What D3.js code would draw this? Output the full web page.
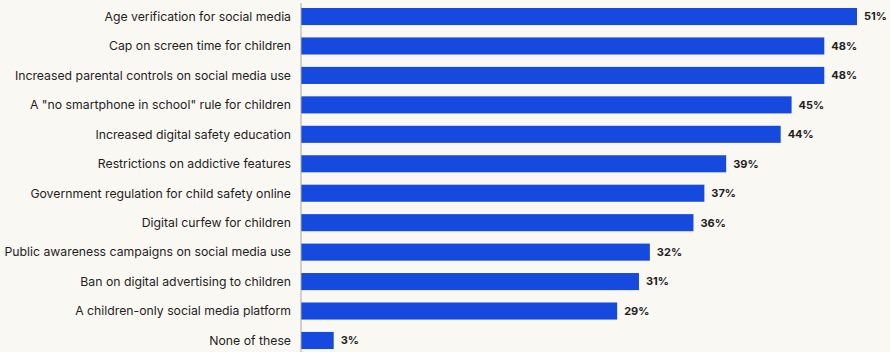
<!DOCTYPE html>
<html>
<head>
<meta charset="utf-8">
<script src="https://cdn.jsdelivr.net/npm/d3@7"></script>
<style>
  body { margin: 0; background: #faf8f3; }
  svg { display: block; }
</style>
</head>
<body>
<div id="chart"></div>
<script>
var categories = [
  "Age verification for social media",
  "Cap on screen time for children",
  "Increased parental controls on social media use",
  "A \"no smartphone in school\" rule for children",
  "Increased digital safety education",
  "Restrictions on addictive features",
  "Government regulation for child safety online",
  "Digital curfew for children",
  "Public awareness campaigns on social media use",
  "Ban on digital advertising to children",
  "A children-only social media platform",
  "None of these"
];
var values = [51, 48, 48, 45, 44, 39, 37, 36, 32, 31, 29, 3];

var width = 890, height = 352,
    axisX = 301;

var svg = d3.select("#chart").append("svg")
    .attr("width", width)
    .attr("height", height);

svg.append("rect")
    .attr("width", width).attr("height", height)
    .attr("fill", "#faf8f3");

var x = d3.scaleLinear()
    .domain([0, 51])
    .range([axisX, 857]);

var y = d3.scaleBand()
    .domain(categories)
    .range([1.8, 355.2])
    .paddingInner(0.42)
    .paddingOuter(0.21);

// bars
svg.append("g").selectAll("rect")
    .data(values)
    .enter().append("rect")
    .attr("x", x(0))
    .attr("y", function(d, i) { return y(categories[i]); })
    .attr("width", function(d) { return x(d) - x(0); })
    .attr("height", y.bandwidth())
    .attr("fill", "#1649dd");

// axis line
svg.append("line")
    .attr("x1", axisX).attr("x2", axisX)
    .attr("y1", 3).attr("y2", height)
    .attr("stroke", "#a8a8a8")
    .attr("stroke-width", 1);

// category labels
svg.append("g").selectAll("text")
    .data(categories)
    .enter().append("text")
    .attr("x", axisX - 10)
    .attr("y", function(d) { return y(d) + y.bandwidth() / 2; })
    .attr("dy", "0.35em")
    .attr("text-anchor", "end")
    .attr("font-family", "Inter, 'Noto Sans', sans-serif")
    .attr("font-size", 12.25)
    .attr("fill", "#1e1e1e")
    .text(function(d) { return d; });

// value labels
svg.append("g").selectAll("text")
    .data(values)
    .enter().append("text")
    .attr("x", function(d) { return x(d) + 7; })
    .attr("y", function(d, i) { return y(categories[i]) + y.bandwidth() / 2; })
    .attr("dy", "0.35em")
    .attr("font-family", "Inter, 'Noto Sans', sans-serif")
    .attr("font-size", 11)
    .attr("font-weight", "bold")
    .attr("fill", "#1e1e1e")
    .text(function(d) { return d + "%"; });
</script>
</body>
</html>
